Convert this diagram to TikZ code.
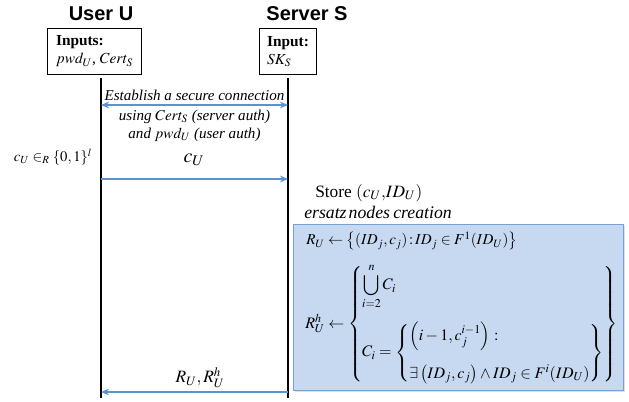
\documentclass[tikz,border=0pt]{standalone}
\usepackage{mathptmx}
\usepackage{fontspec}
\setmainfont{Liberation Serif}
\setsansfont{Liberation Sans}
\usetikzlibrary{arrows.meta,shadows}
\definecolor{msgblue}{RGB}{91,146,207}
\definecolor{boxfill}{RGB}{198,217,240}
\definecolor{boxline}{RGB}{120,160,210}
\begin{document}
\begin{tikzpicture}[x=0.75pt,y=-0.75pt,
  >={Stealth[length=6pt,width=5pt]},
  title/.style={font=\sffamily\bfseries\fontsize{15}{18}\selectfont, inner sep=0pt},
  inbox/.style={draw, line width=0.8pt, align=left, inner sep=3pt, anchor=north west,
    font=\fontsize{11.5}{13.5}\selectfont},
  lifeline/.style={line width=1.2pt},
  msg/.style={draw=msgblue, line width=1.1pt},
  msgtext/.style={font=\itshape\fontsize{11.3}{13}\selectfont, inner sep=0pt},
  plain/.style={font=\fontsize{13}{15}\selectfont, inner sep=0pt},
  bluebox/.style={draw=boxline, fill=boxfill, line width=0.8pt, anchor=north west,
    drop shadow={opacity=0.25, shadow xshift=1pt, shadow yshift=-1pt}},
  boxmath/.style={font=\fontsize{12}{14}\selectfont, inner sep=0pt, anchor=west}
]
\useasboundingbox (0,0) rectangle (629,401);

% titles
\node[title] (tu) at (101,14) {User U};
\node[title] (ts) at (307,14) {Server S};

% input boxes
\node[inbox, minimum width=70.5pt, minimum height=34.5pt] (ub) at (47,28)
  {\textbf{Inputs:}\\ $pwd_U$, $Cert_S$};
\node[inbox, minimum width=42.75pt, minimum height=34.5pt] (sb) at (259,28)
  {\textbf{Input:}\\ $SK_S$};

% lifelines
\coordinate (u0) at (101,78);
\coordinate (u1) at (101,398);
\coordinate (s0) at (288,78);
\coordinate (s1) at (288,398);
\draw[lifeline] (u0) -- (u1);
\draw[lifeline] (s0) -- (s1);

% message 1
\coordinate (ua) at (101,105);
\coordinate (sa) at (288,105);
\draw[msg, <->] (ua) -- (sa);
\node[msgtext] (m1a) at (194.5,95) {Establish a secure connection};
\node[msgtext] (m1b) at (194.5,117) {using $Cert_S$ (server auth)};
\node[msgtext] (m1c) at (194.5,135) {and $pwd_U$ (user auth)};

% message 2
\node[inner sep=0pt, font=\fontsize{11}{13}\selectfont] (cr) at (53,157) {$c_U \in_R \{0,1\}^l$};
\node[inner sep=0pt, font=\fontsize{15}{17}\selectfont] (cu) at (194,160) {$c_U$};
\coordinate (ub2) at (101,179);
\coordinate (sb2) at (288,179);
\draw[msg, ->] (ub2) -- (sb2);

% server processing
\node[plain, anchor=west] (store) at (315,193) {Store $(c_U{,}ID_U)$};
\node[plain, anchor=west, font=\itshape\fontsize{13.3}{15}\selectfont] (ersatz) at (304,212)
  {ersatz\hspace{0.12em}nodes\hspace{0.18em}creation};

\node[bluebox, minimum width=247.5pt, minimum height=124.5pt] (bx) at (293,224) {};
\node[boxmath, font=\fontsize{11.3}{14}\selectfont] (r1) at (306,241)
  {$R_U \leftarrow \left\{\left(ID_j,c_j\right){:}\,ID_j\in F^1\!\left(ID_U\right)\right\}$};
\node[boxmath] (r2) at (305,324)
  {$R_U^h \leftarrow \left\{\begin{array}{@{}l@{}}
     \displaystyle\bigcup_{i=2}^{n} C_i\\[20pt]
     C_i = \left\{\begin{array}{@{}l@{}}
        \left(i-1,c_j^{i-1}\right):\\[14pt]
        \exists\left(ID_j,c_j\right)\wedge ID_j\in F^i(ID_U)
     \end{array}\right\}
   \end{array}\right\}$};

% reply
\coordinate (sc) at (288,392);
\coordinate (uc) at (101,392);
\draw[msg, ->] (sc) -- (uc);
\node[inner sep=0pt, font=\fontsize{13}{15}\selectfont] (rl) at (200,378) {$R_U, R_U^h$};
\end{tikzpicture}
\end{document}
